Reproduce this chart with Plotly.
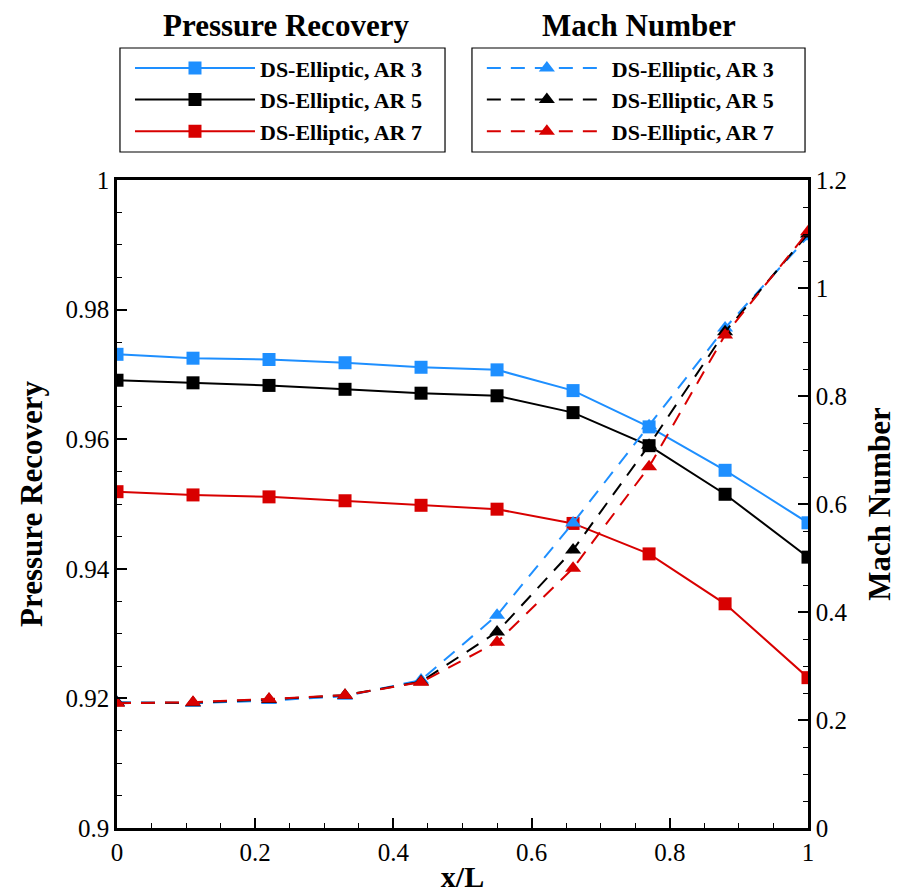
import plotly.graph_objects as go

x_over_L = [0.0, 0.11, 0.22, 0.33, 0.44, 0.55, 0.66, 0.77, 0.88, 1.0]

pr_ar3 = [0.9731, 0.9725, 0.9723, 0.9718, 0.9711, 0.9707, 0.9675, 0.9619, 0.9552, 0.9471]
pr_ar5 = [0.9691, 0.9687, 0.9683, 0.9677, 0.9671, 0.9667, 0.9641, 0.9590, 0.9515, 0.9418]
pr_ar7 = [0.9519, 0.9514, 0.9511, 0.9505, 0.9498, 0.9492, 0.9470, 0.9423, 0.9346, 0.9232]

mach_ar3 = [0.233, 0.231, 0.236, 0.244, 0.274, 0.394, 0.565, 0.745, 0.926, 1.095]
mach_ar5 = [0.232, 0.232, 0.238, 0.246, 0.271, 0.363, 0.515, 0.709, 0.919, 1.100]
mach_ar7 = [0.231, 0.233, 0.239, 0.246, 0.270, 0.344, 0.481, 0.669, 0.913, 1.104]

labels = ["DS-Elliptic, AR 3", "DS-Elliptic, AR 5", "DS-Elliptic, AR 7"]
colors = ["#1E8FFF", "#000000", "#D80000"]

FONT = "Liberation Serif"

fig = go.Figure()

for vals, lab, col in zip([pr_ar3, pr_ar5, pr_ar7], labels, colors):
    fig.add_trace(go.Scatter(
        x=x_over_L, y=vals, name=lab, mode="lines+markers",
        line=dict(color=col, width=2),
        marker=dict(symbol="square", size=13, color=col),
        legend="legend", yaxis="y",
    ))

for vals, lab, col in zip([mach_ar3, mach_ar5, mach_ar7], labels, colors):
    fig.add_trace(go.Scatter(
        x=x_over_L, y=vals, name=lab, mode="lines+markers",
        line=dict(color=col, width=2, dash="14px,10px"),
        marker=dict(symbol="triangle-up", size=14, color=col),
        legend="legend2", yaxis="y2",
    ))

axis_common = dict(
    showline=True, linecolor="black", linewidth=2.5,
    ticks="inside", ticklen=10, tickwidth=2, tickcolor="black",
    showgrid=False, zeroline=False, automargin=False,
    tickfont=dict(family=FONT, size=25, color="black"),
)

title_font_v = dict(family=FONT, size=31, color="black")

fig.update_layout(
    width=900, height=893,
    margin=dict(l=117, r=92, t=180, b=65),
    paper_bgcolor="white", plot_bgcolor="white",
    xaxis=dict(
        range=[0, 1], dtick=0.2, mirror=True,
        minor=dict(dtick=0.05, ticks="inside", ticklen=5, tickwidth=1, tickcolor="black"),
        title=dict(text="<b>x/L</b>", font=dict(family=FONT, size=30, color="black"), standoff=2),
        **axis_common,
    ),
    yaxis=dict(
        range=[0.9, 1.0], dtick=0.02,
        minor=dict(dtick=0.005, ticks="inside", ticklen=5, tickwidth=1, tickcolor="black"),
        title=dict(text="<b>Pressure Recovery</b>", font=title_font_v, standoff=14),
        **axis_common,
    ),
    yaxis2=dict(
        range=[0, 1.2], dtick=0.2, overlaying="y", side="right",
        minor=dict(dtick=0.05, ticks="inside", ticklen=5, tickwidth=1, tickcolor="black"),
        title=dict(text="<b>Mach Number</b>", font=title_font_v, standoff=22),
        **axis_common,
    ),
    legend=dict(
        x=0.0188, y=1.205, xanchor="left", yanchor="top",
        bgcolor="rgba(0,0,0,0)", borderwidth=0,
        font=dict(family=FONT, size=22, color="black", weight="bold"),
        itemwidth=120, tracegroupgap=0,
    ),
    legend2=dict(
        x=0.528, y=1.205, xanchor="left", yanchor="top",
        bgcolor="rgba(0,0,0,0)", borderwidth=0,
        font=dict(family=FONT, size=22, color="black", weight="bold"),
        itemwidth=120, tracegroupgap=0,
    ),
    shapes=[
        dict(type="rect", xref="paper", yref="paper", x0=0.0043, x1=0.4747, y0=1.0432, y1=1.2037,
             line=dict(color="black", width=1.2)),
        dict(type="rect", xref="paper", yref="paper", x0=0.5137, x1=0.9957, y0=1.0432, y1=1.2037,
             line=dict(color="black", width=1.2)),
    ],
    annotations=[
        dict(text="<b>Pressure Recovery</b>", xref="paper", yref="paper", x=0.245, y=1.238,
             xanchor="center", yanchor="middle", showarrow=False,
             font=dict(family=FONT, size=31, color="black")),
        dict(text="<b>Mach Number</b>", xref="paper", yref="paper", x=0.756, y=1.238,
             xanchor="center", yanchor="middle", showarrow=False,
             font=dict(family=FONT, size=31, color="black")),
    ],
)

fig.write_html("out.html")
